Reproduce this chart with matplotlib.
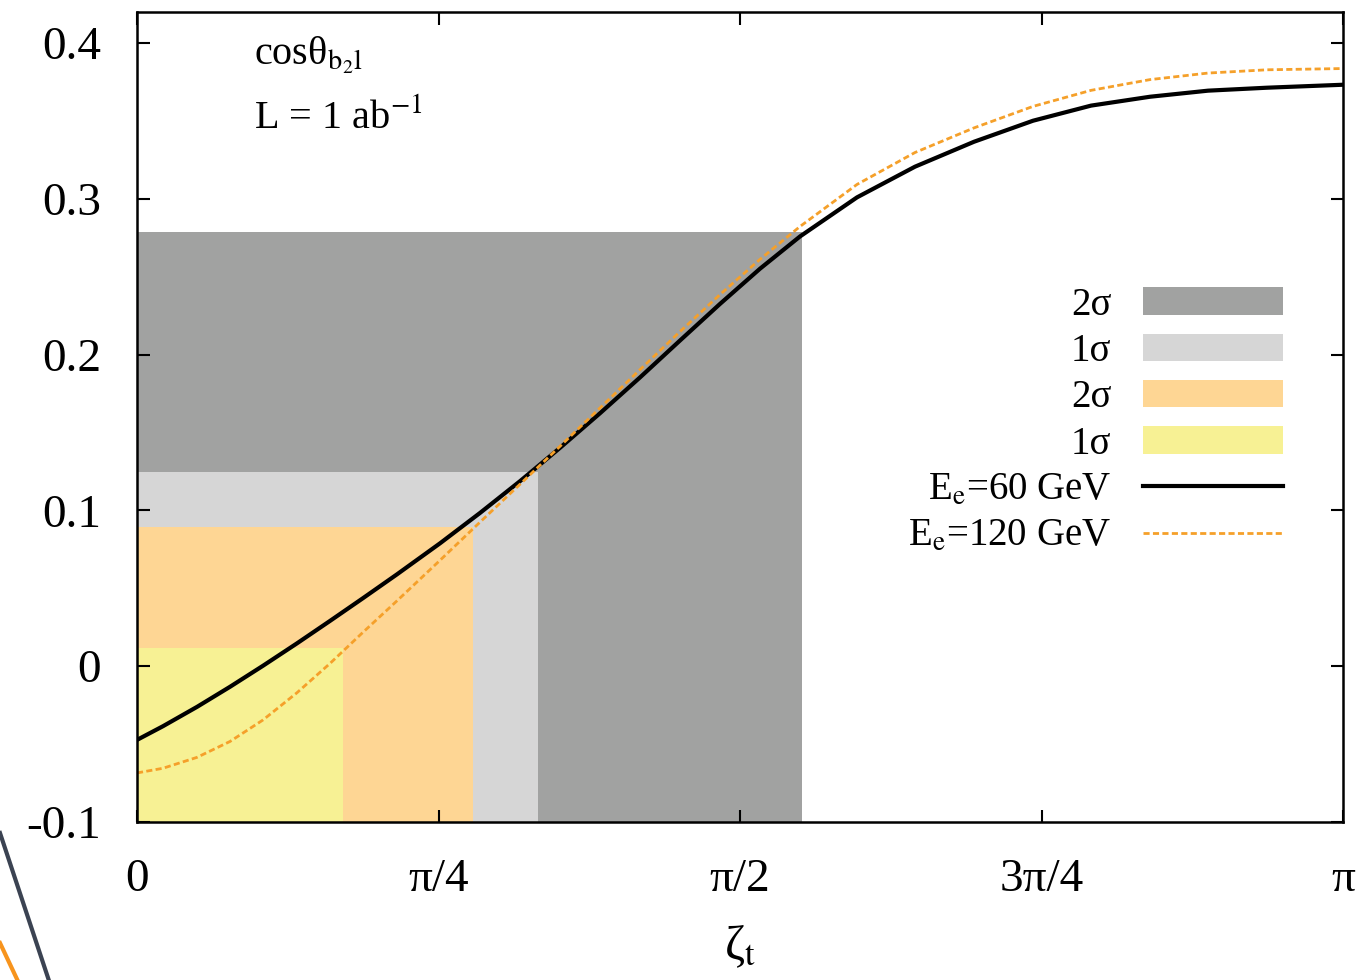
import numpy as np
import matplotlib
matplotlib.use('Agg')
import matplotlib.pyplot as plt
from matplotlib.patches import Patch
from matplotlib.lines import Line2D

plt.rcParams['font.family'] = ['Liberation Serif', 'DejaVu Serif']
plt.rcParams['mathtext.fontset'] = 'stix'

# values
zeta = [0.0, 0.0677, 0.1563, 0.2423, 0.3282, 0.4168, 0.5028, 0.5887, 0.6773, 0.7893,
        0.8935, 0.9977, 1.1019, 1.2061, 1.3103, 1.4145, 1.5187, 1.6229, 1.7271, 1.8756,
        2.0267, 2.1804, 2.3341, 2.4852, 2.6389, 2.7900, 2.9437, 3.1416]
cos_e60 = [-0.0473, -0.0385, -0.0261, -0.0132, 0.0003, 0.0147, 0.0291, 0.0437, 0.0590, 0.0789,
           0.0984, 0.1188, 0.1402, 0.1624, 0.1854, 0.2091, 0.2326, 0.2552, 0.2759, 0.3010,
           0.3207, 0.3367, 0.3502, 0.3599, 0.3656, 0.3695, 0.3714, 0.3733]
cos_e120 = [-0.0685, -0.0655, -0.0585, -0.0483, -0.0345, -0.0170, 0.0018, 0.0218, 0.0420, 0.0680,
            0.0925, 0.1168, 0.1412, 0.1658, 0.1904, 0.2148, 0.2386, 0.2612, 0.2823, 0.3093,
            0.3298, 0.3456, 0.3594, 0.3697, 0.3766, 0.3808, 0.3829, 0.3837]

band_labels = ['2σ', '1σ', '2σ', '1σ']
band_zeta_max = [1.732, 1.045, 0.875, 0.537]
band_top = [0.279, 0.125, 0.0895, 0.012]
band_colors = ['#a1a2a1', '#d6d6d6', '#fed694', '#f7f194']

line_labels = ['E$_{\\mathrm{e}}$=60 GeV', 'E$_{\\mathrm{e}}$=120 GeV']

xtick_vals = [0, np.pi / 4, np.pi / 2, 3 * np.pi / 4, np.pi]
xtick_labels = ['0', 'π/4', 'π/2', '3π/4', 'π']
ytick_vals = [-0.1, 0.0, 0.1, 0.2, 0.3, 0.4]
ytick_labels = ['-0.1', '0', '0.1', '0.2', '0.3', '0.4']

fig = plt.figure(figsize=(13.7, 9.8), dpi=100)
ax = fig.add_axes([137 / 1370, 1 - 822 / 980, (1343 - 137) / 1370, (822 - 12) / 980])

ymin = -0.1
for xr, yt, c in zip(band_zeta_max, band_top, band_colors):
    ax.fill_between([0, xr], ymin, yt, color=c, lw=0, zorder=1)

dash = (0, (2.2, 1.2))
ax.plot(zeta, cos_e60, color='black', lw=3.0, zorder=3)
ax.plot(zeta, cos_e120, color='#f5a02a', lw=2.0, ls=dash, zorder=4)

ax.set_xlim(0, np.pi)
ax.set_ylim(-0.1, 0.42)
ax.set_xticks(xtick_vals)
ax.set_xticklabels(xtick_labels)
ax.set_yticks(ytick_vals)
ax.set_yticklabels(ytick_labels)
ax.tick_params(direction='in', top=True, right=True, length=9, width=1.5,
               labelsize=34, pad=26)
for s in ax.spines.values():
    s.set_linewidth(1.8)
    s.set_zorder(5)
ax.set_xlabel('ζ$_{\\mathrm{t}}$', fontsize=35, labelpad=16)

ax.text(0.305, 0.392, 'cosθ$_{\\mathrm{b_2 l}}$', fontsize=29, ha='left', va='center')
ax.text(0.305, 0.352, 'L = 1 ab$^{\\mathrm{-1}}$', fontsize=29, ha='left', va='center')

handles = [Patch(facecolor=c, edgecolor='none') for c in band_colors]
handles.append(Line2D([], [], color='black', lw=3.0))
handles.append(Line2D([], [], color='#f5a02a', lw=2.0, ls=dash))
labels = band_labels + line_labels
leg = ax.legend(handles, labels, loc='upper right', bbox_to_anchor=(0.966, 0.685),
                frameon=False, markerfirst=False, fontsize=28, handlelength=3.6,
                handleheight=0.7, labelspacing=0.24, handletextpad=0.8, borderpad=0)

# decorative slide strokes at the bottom left
fig.add_artist(Line2D([0, 52 / 1370], [1 - 833 / 980, -0.01], color='#3b4352', lw=3,
                      transform=fig.transFigure))
fig.add_artist(Line2D([0, 22 / 1370], [1 - 943 / 980, -0.01], color='#f7941d', lw=3,
                      transform=fig.transFigure))

fig.savefig('out.png', dpi=100)
